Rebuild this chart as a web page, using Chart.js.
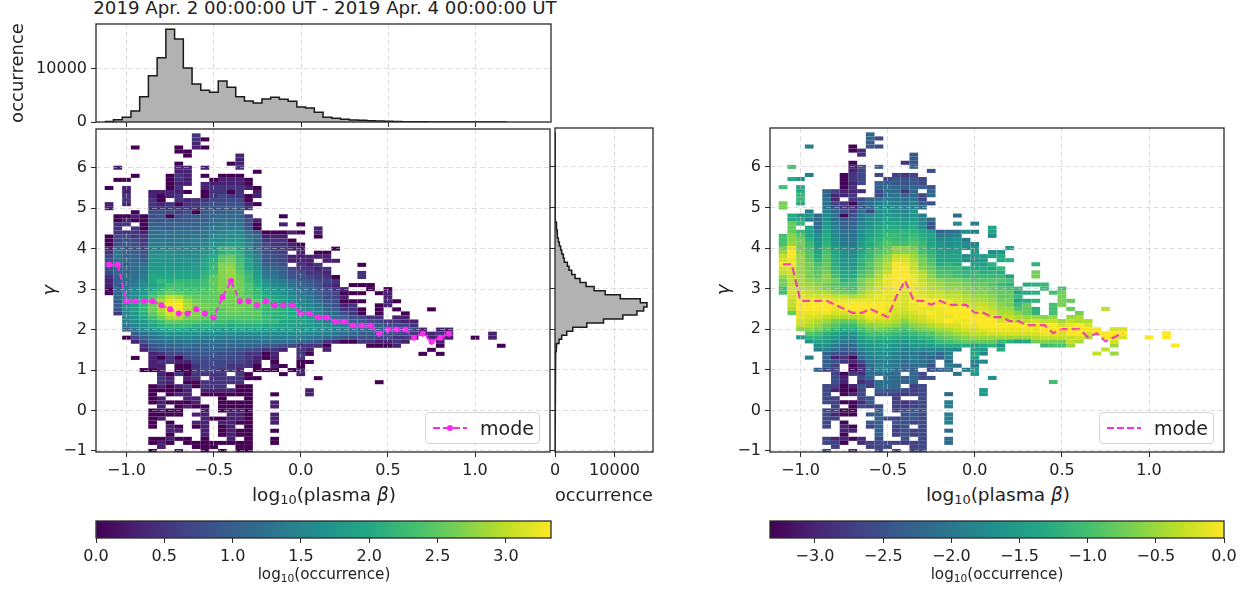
<!DOCTYPE html>
<html lang="en">
<head>
<meta charset="UTF-8">
<title>plasma beta vs gamma</title>
<style>
    body { margin: 0; background: #fff; width: 1250px; height: 590px; overflow: hidden; position: relative;
           font-family: "DejaVu Sans", sans-serif; color: #222; }
    canvas { position: absolute; }
    .lbl { position: absolute; white-space: nowrap; transform: translateX(-50%); line-height: 1; z-index: 5; }
    .lbl sub { font-size: 0.7em; line-height: 0; vertical-align: -0.25em; }
    .legend { position: absolute; width: 115px; height: 32px; box-sizing: border-box; z-index: 6;
              background: rgba(255,255,255,0.8); border: 1px solid #d4d4d4; border-radius: 4px; font-size: 19px; }
    .legend svg { position: absolute; left: 7px; top: 9px; }
    .legend span { position: absolute; left: 54px; top: 4px; }
</style>
</head>
<body>
<div class="lbl" style="left:325px;top:-1px;font-size:18.2px">2019 Apr. 2 00:00:00 UT - 2019 Apr. 4 00:00:00 UT</div>
<div class="lbl" style="left:324px;top:486px;font-size:18.5px">log<sub>10</sub>(plasma <i>β</i>)</div>
<div class="lbl" style="left:998px;top:486px;font-size:18.5px">log<sub>10</sub>(plasma <i>β</i>)</div>
<div class="lbl" style="left:324px;top:567px;font-size:15.2px">log<sub>10</sub>(occurrence)</div>
<div class="lbl" style="left:997px;top:567px;font-size:15.2px">log<sub>10</sub>(occurrence)</div>
<div class="legend" style="left:425px;top:412px">
    <svg width="36" height="12"><line x1="0" y1="6" x2="34" y2="6" stroke="#ff2bf0" stroke-width="1.8" stroke-dasharray="7 3"/><circle cx="17" cy="6" r="3" fill="#ff2bf0"/></svg>
    <span>mode</span>
</div>
<div class="legend" style="left:1099px;top:412px">
    <svg width="36" height="12"><line x1="0" y1="6" x2="34" y2="6" stroke="#ff2bf0" stroke-width="1.8" stroke-dasharray="7 3"/></svg>
    <span>mode</span>
</div>

<canvas id="topHist"></canvas>
<canvas id="mainLeft"></canvas>
<canvas id="sideHist"></canvas>
<canvas id="mainRight"></canvas>
<canvas id="barLeft"></canvas>
<canvas id="barRight"></canvas>

<script src="https://cdn.jsdelivr.net/npm/chart.js"></script>
<script>
// bin centres of the 2D histogram
const betaBins = [-1.1, -1.05, -1.0, -0.95, -0.9, -0.85, -0.8, -0.75, -0.7, -0.65, -0.6, -0.55, -0.5, -0.45, -0.4, -0.35,
    -0.3, -0.25, -0.2, -0.15, -0.1, -0.05, 0.0, 0.05, 0.1, 0.15, 0.2, 0.25, 0.3, 0.35, 0.4, 0.45, 0.5, 0.55, 0.6, 0.65,
    0.7, 0.75, 0.8, 0.85, 0.9, 0.95, 1.0, 1.05, 1.1, 1.15];
const gammaBins = [6.8, 6.7, 6.6, 6.5, 6.4, 6.3, 6.2, 6.1, 6.0, 5.9, 5.8, 5.7, 5.6, 5.5, 5.4, 5.3, 5.2, 5.1, 5.0, 4.9,
    4.8, 4.7, 4.6, 4.5, 4.4, 4.3, 4.2, 4.1, 4.0, 3.9, 3.8, 3.7, 3.6, 3.5, 3.4, 3.3, 3.2, 3.1, 3.0, 2.9,
    2.8, 2.7, 2.6, 2.5, 2.4, 2.3, 2.2, 2.1, 2.0, 1.9, 1.8, 1.7, 1.6, 1.5, 1.4, 1.3, 1.2, 1.1, 1.0, 0.9,
    0.8, 0.7, 0.6, 0.5, 0.4, 0.3, 0.2, 0.1, 0.0, -0.1, -0.2, -0.3, -0.4, -0.5, -0.6, -0.7, -0.8, -0.9, -1.0];

// log10(occurrence) per cell, one string per gamma row, one character per beta bin.
// base 36 in tenths (a = 1.0, k = 2.0, u = 3.0), '.' = empty, spaces only for reading
const logOccurrence = [
    "..... ..... 5",
    "..... ..... 50",
    "..... ..... 3",
    "...0. ...0. 30",
    "..... ...00",
    "..... ....0 ..... 3",
    "..... ..... ..... 3",
    "..... ...0. ....0 3",
    ".3... ...33 .3... 5",
    "..... ...33 ..... ..0",
    "...0. ..053 .0.00 0",
    ".00.. ..053 ..033 30",
    "..... ..033 .3333 30",
    "0.3.. ..05. .3555 530",
    "..3.. 33330 .0550 5.3",
    "..5.. 3035. .0575 503",
    "..5.. 50.53 55777 70",
    "3.3.. 53505 57888 830",
    "3.... 55555 58999 95",
    "...0. 88868 09aaa b.",
    ".0030 89089 9abbb b6... 0",
    ".0300 99999 aabcc c83",
    ".55.0 aaaaa abcdd d80.. 3.0",
    ".5.50 bbabb bcdee e90.. ....3",
    ".5553 ccccc cdefg fc900 030.3",
    "07755 dcccc ddfgg gdb33 3...0",
    "07975 ddddd eeggh heb55 50",
    "08986 eedde efhhi ifb75 530",
    "3c997 fffff fgimm kgc86 633.. .0",
    "5daa8 gggff ghilm lgd87 6.3.0 0",
    "7dba9 hhggg gikop mie98 73333 3",
    "8cbba hhhhh hjlpq njf98 7333. 33",
    "adbcc ihhhh ikmrr ojgaa 8.535 ....0",
    "8bbcd iiiii ikmrs okhcb a7553 5",
    "7bbcd jjjjj jlnrs pmidc a8855 3...5",
    "5acce kkkkk kmprs qnjed b9876 50..5",
    "3acdf kmlmm mnprs qnkhf eca98 75",
    "3aceg jlnnm mnprr qolig fdba8 53.00 0",
    "0bdfh kmonn noprr qomjh gecb9 753.. 0.0",
    "0begi moqpo oopqq qomki hfdca 87000 .03",
    ".bfhk orutq pppqq qpnlj igedb 873.. ..3",
    ".agjm qtwws qppqq rqpnl jhfec 98000 ..30",
    ".agjm quxxt rqqqq qqpnm kigfd a835. .03",
    ".9gjm qtxxt rqppq qpomm lkhge ba550 .0.0. ..0",
    ".5fil psvvs rqppp pppmm lkjhf cb850 .0..0",
    "..fhk nqttq qpooo oooml lkjig dca87 55.33",
    "..egi lnppo onnnm nnnmm kjjih edbaa 87553 3",
    "..dfh jlmmm llllk lllkk jjiih gfedc ba877 5",
    "..adf hjkkj jjiii jjjii iihhg fedcb baa87 73.33",
    "...ac eghhh hgggg ggggg gggff edcba a9887 53355 ....3",
    "..07a cefff feeee eeeee eeedc ba988 87755 3.333 ..0.3",
    "...38 bcddd dcccc ccccc ccba9 53005 53353 ...3",
    "....5 9abbc bbbbb bba99 87555 0.... 0003. ...0. ..... 0",
    "....3 799aa aaaa9 98755 3.53. 3.... ..... ..0",
    "..... 35778 99988 75503 ..50. ..... ..... .0.0",
    "...0. 30507 88887 75303 ..5",
    "..... 35533 77777 753.0 ..00",
    "..... 33.00 57775 550.3 0.0",
    "....0 03.00 57755 3.000 .03",
    "..... .3050 5555. 50... 0.3",
    "..... .53.3 5.555 500.. ....0",
    "..... .53.0 05555 5.... ..... ..... .0",
    "..... 03035 0555. 00",
    "..... 00003 .3333 00... ...3",
    "..... 0.033 .0000 00..0 ...3",
    "..... 03..3 3..0. .0",
    "..... 03000 3..00 00..3",
    "..... .3.03 00.00 00..3",
    "..... 0300. .3.03 30",
    "..... 0000. 33..3 30..3",
    "..... 03... .3003 30..3",
    "..... 0.0.. 33.33 00..3",
    "..... 0.30. 03.03 .0",
    "..... ..33. .3.03 00..0",
    "..... ..0.. .3.03 00",
    "..... 00300 .0..3 .0..0",
    "..... 030.0 00000 00..0",
    "..... .3... 000.. 00",
    "..... 0..3. .0.0. 00"
];

// mode of gamma in each beta bin
const modeGamma = [3.6, 3.6, 2.7, 2.7, 2.7, 2.7, 2.6, 2.5, 2.4, 2.4, 2.5, 2.4, 2.3, 2.8, 3.2, 2.7, 2.7, 2.6, 2.7, 2.6,
    2.6, 2.6, 2.4, 2.4, 2.3, 2.3, 2.2, 2.2, 2.1, 2.1, 2.1, 1.9, 2.0, 2.0, 2.0, 1.8, 1.9, 1.7, 1.8, 1.9];

// marginal histograms
const betaCounts = [100, 440, 880, 2080, 4780, 8740, 12140, 17500, 15660, 10190, 7170, 5970, 5600, 7740, 6540, 4780,
    3960, 3580, 4340, 4650, 4280, 3900, 2830, 2640, 1820, 880, 690, 500, 380, 310, 250, 190, 130, 100, 60, 40, 30, 20,
    15, 10, 5, 3, 2, 2, 2, 1];
const gammaCounts = [2, 2, 2, 2, 3, 3, 3, 4, 6, 8, 10, 14, 18, 24, 30, 36, 40, 44, 50, 70, 100, 130, 190, 280, 340, 420,
    560, 730, 950, 1130, 1400, 1570, 2080, 2360, 2810, 3370, 4210, 5220, 6570, 8430, 10960, 14330, 15450, 14890, 13760,
    11400, 8150, 5340, 2980, 1970, 1120, 670, 280, 170, 110, 60, 30, 15, 10, 8, 6, 6, 5, 5, 4, 4, 4, 3, 3, 3, 3, 3, 3, 2,
    2, 2, 2, 2, 2];

// tick labels
const betaTicks = [-1.0, -0.5, 0.0, 0.5, 1.0];
const gammaTicks = [-1, 0, 1, 2, 3, 4, 5, 6];
const countTicksTop = [0, 10000];
const countTicksSide = [0, 10000];
const barTicksLeft = [0.0, 0.5, 1.0, 1.5, 2.0, 2.5, 3.0];
const barTicksRight = [-3.0, -2.5, -2.0, -1.5, -1.0, -0.5, 0.0];

const viridis = [[68,1,84],[72,36,117],[65,68,135],[53,95,141],[42,120,142],[33,145,140],[34,168,132],[68,191,112],[122,209,81],[189,223,38],[253,231,37]];
const logMax = 3.33;
const BETA_MIN = -1.175, BETA_MAX = 1.43, GAMMA_MIN = -1.025, GAMMA_MAX = 6.957;
const TICK_FONT = { family: '"DejaVu Sans"', size: 16 };
const LABEL_FONT = { family: '"DejaVu Sans"', size: 18 };
const GRID_COLOR = 'rgba(195,195,195,0.55)';
const SPINE = '#2a2a2a';

function viridisColor(f) {
    f = Math.min(1, Math.max(0, f)) * (viridis.length - 1);
    const i = Math.min(viridis.length - 2, Math.floor(f)), t = f - i;
    const c = viridis[i].map((v, k) => Math.round(v + (viridis[i + 1][k] - v) * t));
    return 'rgb(' + c.join(',') + ')';
}

const rows = logOccurrence.map(r => r.replace(/ /g, ''));

function cellValue(ch) {
    return (ch === undefined || ch === '.') ? null : parseInt(ch, 36) / 10;
}

const columnMax = betaBins.map((b, c) => {
    let m = 0;
    rows.forEach(r => { const v = cellValue(r[c]); if (v !== null && v > m) m = v; });
    return m;
});

// one floating bar per filled cell. normalised=true is the right panel, each beta column scaled by its own peak
function buildCells(normalised) {
    const data = [], colors = [];
    rows.forEach((r, i) => {
        betaBins.forEach((b, c) => {
            const v = cellValue(r[c]);
            if (v === null) return;
            data.push({ x: b, y: [gammaBins[i] - 0.05, gammaBins[i] + 0.05] });
            colors.push(normalised ? viridisColor((v - columnMax[c] + logMax) / logMax) : viridisColor(v / logMax));
        });
    });
    return { data, colors };
}

// turns bin centres + counts into histogram outline corners
function outlineTop(centres, counts) {
    const pts = [];
    centres.forEach((b, i) => { pts.push({ x: b - 0.025, y: counts[i] }, { x: b + 0.025, y: counts[i] }); });
    return pts;
}
function outlineSide(centres, counts) {
    const pts = [];
    centres.forEach((g, i) => { pts.push({ x: counts[i], y: g + 0.05 }, { x: counts[i], y: g - 0.05 }); });
    return pts;
}

const framePlugin = {
    id: 'frame',
    afterDraw(chart) {
        const a = chart.chartArea, ctx = chart.ctx;
        ctx.save();
        ctx.strokeStyle = SPINE;
        ctx.lineWidth = 1.3;
        ctx.strokeRect(a.left, a.top, a.right - a.left, a.bottom - a.top);
        ctx.restore();
    }
};

// puts the canvas so that the plot area lands on the given rectangle
function place(id, box, m) {
    const el = document.getElementById(id);
    el.width = box.w + m.l + m.r;
    el.height = box.h + m.t + m.b;
    el.style.left = (box.x - m.l) + 'px';
    el.style.top = (box.y - m.t) + 'px';
    return el;
}

// tick labels must not eat into the plot area, so the fitted paddings are dropped
function pinScale(s, m, horizontal) {
    if (horizontal) s.height = m.b; else s.width = m.l;
    s.paddingTop = s.paddingBottom = s.paddingLeft = s.paddingRight = 0;
}

function axis(min, max, ticks, m, horizontal, extra) {
    return Object.assign({
        type: 'linear', min: min, max: max, offset: false,
        afterBuildTicks: s => { s.ticks = ticks.map(v => ({ value: v })); },
        afterFit: s => pinScale(s, m, horizontal),
        grid: { offset: false, color: GRID_COLOR, tickColor: SPINE, tickLength: 5, lineWidth: 1, tickBorderDash: [] },
        border: { display: false, dash: [5, 3] },
        ticks: { font: TICK_FONT, color: '#222', padding: 4, maxRotation: 0, autoSkip: false }
    }, extra || {});
}

function fmt1(v) { return v.toFixed(1).replace('-', '\u2212'); }
function fmt0(v) { return String(v).replace('-', '\u2212'); }

function baseOptions(m) {
    return {
        responsive: false, animation: false, events: [], devicePixelRatio: 1,
        layout: { padding: { top: m.t, right: m.r, left: 0, bottom: 0 } },
        plugins: { legend: { display: false }, tooltip: { enabled: false } }
    };
}

function tickStyle(ax, cb, hide) {
    ax.ticks = Object.assign({}, ax.ticks, { callback: cb, display: !hide });
    return ax;
}

// -- top histogram
(function () {
    const m = { l: 96, r: 3, t: 3, b: 6 };
    const el = place('topHist', { x: 96, y: 24, w: 455, h: 98 }, m);
    const x = tickStyle(axis(BETA_MIN, BETA_MAX, betaTicks, m, true), v => '', true);
    const y = tickStyle(axis(0, 18490, countTicksTop, m, false, {
        title: { display: true, text: 'occurrence', font: LABEL_FONT, color: '#222', padding: { top: 8, bottom: 8 } }
    }), fmt0);
    new Chart(el, {
        type: 'line',
        data: { datasets: [{ data: outlineTop(betaBins, betaCounts), borderColor: '#1a1a1a', backgroundColor: '#b2b2b2',
            borderWidth: 1.5, pointRadius: 0, fill: 'origin', tension: 0 }] },
        options: Object.assign(baseOptions(m), { scales: { x: x, y: y } }),
        plugins: [framePlugin]
    });
})();

// -- side histogram
(function () {
    const m = { l: 6, r: 3, t: 3, b: 56 };
    const el = place('sideHist', { x: 555, y: 128, w: 98, h: 324 }, m);
    const x = tickStyle(axis(0, 16460, countTicksSide, m, true, {
        title: { display: true, text: 'occurrence', font: LABEL_FONT, color: '#222', padding: { top: 1, bottom: 1 } }
    }), fmt0);
    const y = tickStyle(axis(GAMMA_MIN, GAMMA_MAX, gammaTicks, m, false), v => '', true);
    new Chart(el, {
        type: 'line',
        data: { datasets: [{ data: outlineSide(gammaBins, gammaCounts), borderColor: '#1a1a1a', backgroundColor: '#b2b2b2',
            borderWidth: 1.5, pointRadius: 0, fill: 'origin', tension: 0 }] },
        options: Object.assign(baseOptions(m), { indexAxis: 'y', scales: { x: x, y: y } }),
        plugins: [framePlugin]
    });
})();

// -- the two 2D histograms
function drawMain(id, box, normalised, markerRadius, lineColor, lineWidth, lineDash) {
    const m = { l: 56, r: 3, t: 3, b: 30 };
    const el = place(id, box, m);
    const cells = buildCells(normalised);
    const gridOnTop = { z: 1, offset: false, color: GRID_COLOR, tickColor: SPINE, tickLength: 5, lineWidth: 1, tickBorderDash: [] };
    const x = tickStyle(axis(BETA_MIN, BETA_MAX, betaTicks, m, true, { grid: gridOnTop }), fmt1);
    const y = tickStyle(axis(GAMMA_MIN, GAMMA_MAX, gammaTicks, m, false, {
        grid: gridOnTop,
        title: { display: true, text: '\u03b3', font: Object.assign({ style: 'italic' }, LABEL_FONT), color: '#222', padding: { top: 0, bottom: 0 } }
    }), fmt0);
    new Chart(el, {
        type: 'bar',
        data: { datasets: [
            { type: 'line', order: 1, label: 'mode', data: modeGamma.map((g, i) => ({ x: betaBins[i], y: g })),
              borderColor: lineColor, backgroundColor: lineColor, borderWidth: lineWidth, borderDash: lineDash,
              pointRadius: markerRadius, pointBorderWidth: 0, tension: 0, fill: false },
            { order: 2, data: cells.data, backgroundColor: cells.colors, borderWidth: 0, inflateAmount: 0,
              barPercentage: 1, categoryPercentage: 1, grouped: false }
        ] },
        options: Object.assign(baseOptions(m), { scales: { x: x, y: y } }),
        plugins: [framePlugin]
    });
}
drawMain('mainLeft', { x: 96, y: 128, w: 455, h: 324 }, false, 3, '#ff2bf0', 1.8, [6, 3]);
drawMain('mainRight', { x: 770, y: 128, w: 454, h: 324 }, true, 0, 'rgba(240,30,190,0.8)', 2.2, [8, 4]);

// -- colour bars
function drawColorbar(id, box, min, max, ticks) {
    const m = { l: 24, r: 24, t: 2, b: 30 };
    const el = place(id, box, m);
    const x = tickStyle(axis(min, max, ticks, m, true, {
        grid: { display: true, offset: false, drawOnChartArea: false, tickColor: SPINE, tickLength: 5, tickBorderDash: [] }
    }), fmt1);
    new Chart(el, {
        type: 'bar',
        data: { labels: ['log10(occurrence)'], datasets: [{
            data: [[min, max]], barPercentage: 1, categoryPercentage: 1, borderWidth: 0,
            backgroundColor(c) {
                const a = c.chart.chartArea;
                if (!a) return '#888';
                const g = c.chart.ctx.createLinearGradient(a.left, 0, a.right, 0);
                viridis.forEach((s, i) => g.addColorStop(i / (viridis.length - 1), 'rgb(' + s.join(',') + ')'));
                return g;
            }
        }] },
        options: Object.assign(baseOptions(m), {
            indexAxis: 'y',
            scales: { x: x, y: { display: true, grid: { display: false }, border: { display: false }, ticks: { display: false },
                afterFit: s => { s.width = m.l; s.paddingTop = s.paddingBottom = 0; } } }
        }),
        plugins: [framePlugin]
    });
}
drawColorbar('barLeft', { x: 96, y: 521, w: 455, h: 17 }, 0, logMax, barTicksLeft);
drawColorbar('barRight', { x: 770, y: 521, w: 454, h: 17 }, -logMax, 0, barTicksRight);
</script>
</body>
</html>
